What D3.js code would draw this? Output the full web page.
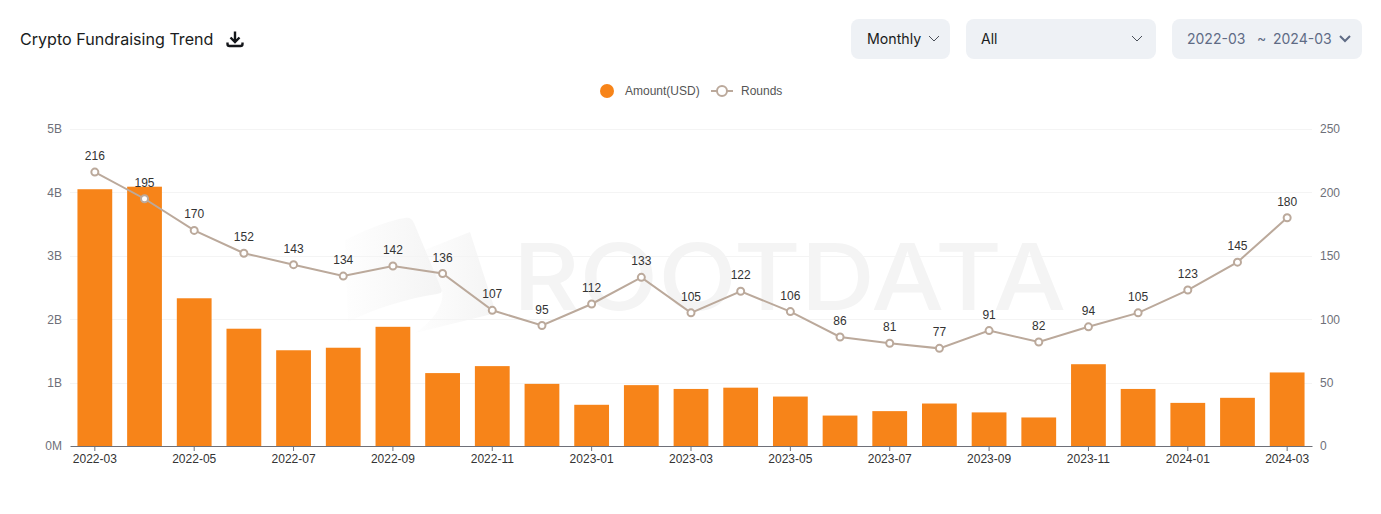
<!DOCTYPE html>
<html>
<head>
<meta charset="utf-8">
<script src="https://cdn.jsdelivr.net/npm/d3@7"></script>
<style>
  html, body { margin: 0; padding: 0; background: #fff; }
  body { width: 1381px; height: 514px; position: relative; overflow: hidden; }
  svg { position: absolute; left: 0; top: 0; }
  text { font-family: "Liberation Sans", Arial, sans-serif; font-size: 12px; }
  .ui { font-family: Inter, sans-serif; }
</style>
</head>
<body>
<svg id="chart" width="1381" height="514"></svg>
<script>
// Values
const months = ["2022-03","2022-04","2022-05","2022-06","2022-07","2022-08","2022-09","2022-10","2022-11","2022-12",
  "2023-01","2023-02","2023-03","2023-04","2023-05","2023-06","2023-07","2023-08","2023-09","2023-10","2023-11","2023-12",
  "2024-01","2024-02","2024-03"];
const amounts = [4.05,4.09,2.33,1.85,1.51,1.55,1.88,1.15,1.26,0.98,0.65,0.96,0.90,0.92,0.78,0.48,0.55,0.67,0.53,0.45,1.29,0.90,0.68,0.76,1.16];
const rounds = [216,195,170,152,143,134,142,136,107,95,112,133,105,122,106,86,81,77,91,82,94,105,123,145,180];
const amountTicks = [0,1,2,3,4,5];
const roundTicks = [0,50,100,150,200,250];

const margin = { top: 129, right: 69, bottom: 68, left: 70 };
const width = 1381, height = 514;

const svg = d3.select("#chart");

// x scale
const x = d3.scaleBand()
  .domain(months)
  .range([margin.left, width - margin.right])
  .paddingInner(0.3)
  .paddingOuter(0.15);

// y scales
const y = d3.scaleLinear().domain([0, 5]).range([height - margin.bottom, margin.top]);
const yRounds = d3.scaleLinear().domain([0, 250]).range([height - margin.bottom, margin.top]);
const cx = (m) => x(m) + x.bandwidth() / 2;

// Header
svg.append("text").attr("class", "ui").attr("x", 20).attr("y", 44.5)
  .style("font-size", "16.1px").attr("fill", "#1a1c20").text("Crypto Fundraising Trend");
const dl = svg.append("g").attr("fill", "none").attr("stroke", "#14161a").attr("stroke-width", 2.4);
dl.append("path").attr("d", "M235 31.5V41M230.5 37.5L235 42L239.5 37.5");
dl.append("path").attr("d", "M227.5 42.5V44A2 2 0 0 0 229.5 46H240.5A2 2 0 0 0 242.5 44V42.5");

const controls = [
  { x: 851, w: 99, label: "Monthly", tx: 867, fill: "#1a1c20", chev: 934, size: "14.2px" },
  { x: 966, w: 190, label: "All", tx: 981, fill: "#1a1c20", chev: 1137, size: "14px" },
  { x: 1172, w: 190, label: "2022-03", tx: 1187, fill: "#5f6b85", chev: 1345, size: "14px" },
];
controls.forEach((c, i) => {
  svg.append("rect").attr("x", c.x).attr("y", 19).attr("width", c.w).attr("height", 40)
    .attr("rx", 8).attr("fill", "#eef1f5");
  svg.append("text").attr("class", "ui").attr("x", c.tx).attr("y", 44)
    .style("font-size", c.size).attr("fill", c.fill).text(c.label);
  svg.append("path")
    .attr("d", `M${c.chev - 5} 36L${c.chev} 41L${c.chev + 5} 36`)
    .attr("fill", "none").attr("stroke", i === 2 ? "#5f6b85" : "#4a4f58")
    .attr("stroke-width", i === 2 ? 2 : 1);
});
svg.append("text").attr("class", "ui").attr("x", 1257).attr("y", 43)
  .style("font-size", "14px").attr("fill", "#5f6b85").text("~");
svg.append("text").attr("class", "ui").attr("x", 1273).attr("y", 44)
  .style("font-size", "14px").attr("fill", "#5f6b85").text("2024-03");

// Legend
svg.append("circle").attr("cx", 607).attr("cy", 91).attr("r", 7).attr("fill", "#f78419");
svg.append("text").attr("x", 625).attr("y", 95).attr("fill", "#555").text("Amount(USD)");
svg.append("line").attr("x1", 711).attr("x2", 733).attr("y1", 91).attr("y2", 91)
  .attr("stroke", "#bba99b").attr("stroke-width", 2);
svg.append("circle").attr("cx", 722).attr("cy", 91).attr("r", 5).attr("fill", "#fff")
  .attr("stroke", "#bba99b").attr("stroke-width", 2);
svg.append("text").attr("x", 741).attr("y", 95).attr("fill", "#555").text("Rounds");

// Watermark
const defs = svg.append("defs");
const grad = defs.append("linearGradient").attr("id", "wm");
grad.append("stop").attr("offset", "0").attr("stop-color", "#f4f4f4").attr("stop-opacity", 0.1);
grad.append("stop").attr("offset", "1").attr("stop-color", "#f4f4f4");
const wm = svg.append("g");
wm.append("path").attr("fill", "url(#wm)")
  .attr("d", "M345 240C365 230 390 220 405 218C410 217 412 219 414 223L441 288C443 292 441 293 437 294C410 298 375 308 348 322Z");
wm.append("path").attr("fill", "url(#wm)")
  .attr("d", "M422 251L470 232L496 313L415 333C432 322 445 305 442 290Z");
wm.append("text").attr("x", 513).attr("y", 310)
  .style("font-family", "Inter, sans-serif").style("font-size", "92px").style("font-weight", 500)
  .attr("textLength", 553).attr("lengthAdjust", "spacingAndGlyphs")
  .attr("fill", "#f4f4f4").text("ROOTDATA");

// Grid lines
svg.append("g").attr("stroke", "#f4f4f4")
  .selectAll("line")
  .data(amountTicks.slice(1))
  .join("line")
  .attr("x1", margin.left).attr("x2", width - margin.right)
  .attr("y1", (d) => Math.round(y(d)) + 0.5).attr("y2", (d) => Math.round(y(d)) + 0.5);

// Draw bars
svg.append("g")
  .attr("fill", "#f78419")
  .selectAll("rect")
  .data(amounts)
  .join("rect")
  .attr("x", (d, i) => x(months[i]))
  .attr("y", (d) => y(d))
  .attr("width", x.bandwidth())
  .attr("height", (d) => y(0) - y(d));

// Axes
const xAxis = svg.append("g")
  .attr("transform", "translate(0," + (height - margin.bottom) + ")")
  .call(d3.axisBottom(x).tickValues(months.filter((d, i) => i % 2 === 0)).tickSize(5).tickSizeOuter(0).tickPadding(3));
xAxis.select(".domain").attr("stroke", "#6e7079");
xAxis.selectAll(".tick line").attr("stroke", "#6e7079");
xAxis.selectAll("text").attr("fill", "#333").style("font-size", "12px").style("font-family", "Liberation Sans");

const leftAxis = svg.append("g")
  .attr("transform", "translate(" + margin.left + ",0)")
  .call(d3.axisLeft(y).tickValues(amountTicks).tickSize(0).tickPadding(8)
    .tickFormat((d) => (d === 0 ? "0M" : d + "B")));
const rightAxis = svg.append("g")
  .attr("transform", "translate(" + (width - margin.right) + ",0)")
  .call(d3.axisRight(yRounds).tickValues(roundTicks).tickSize(0).tickPadding(8));
[leftAxis, rightAxis].forEach((a) => {
  a.select(".domain").remove();
  a.selectAll("text").attr("fill", "#6e7079").style("font-size", "12px").style("font-family", "Liberation Sans");
});

// Rounds line
svg.append("path")
  .datum(rounds)
  .attr("fill", "none")
  .attr("stroke", "#bba99b")
  .attr("stroke-width", 2)
  .attr("d", d3.line().x((d, i) => cx(months[i])).y((d) => yRounds(d)));

svg.append("g")
  .selectAll("circle")
  .data(rounds)
  .join("circle")
  .attr("cx", (d, i) => cx(months[i]))
  .attr("cy", (d) => yRounds(d))
  .attr("r", 3.5)
  .attr("fill", "#fff")
  .attr("stroke", "#bba99b")
  .attr("stroke-width", 2);

svg.append("g")
  .selectAll("text")
  .data(rounds)
  .join("text")
  .attr("x", (d, i) => cx(months[i]))
  .attr("y", (d) => yRounds(d) - 12)
  .attr("text-anchor", "middle")
  .attr("fill", "#333")
  .text((d) => d);
</script>
</body>
</html>
